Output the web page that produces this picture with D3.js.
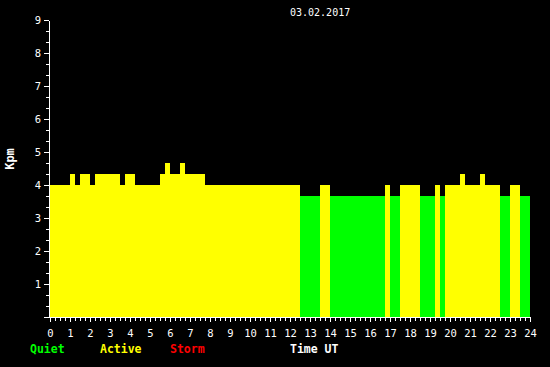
<!DOCTYPE html>
<html>
<head>
<meta charset="utf-8">
<script src="https://cdnjs.cloudflare.com/ajax/libs/d3/7.8.5/d3.min.js"></script>
<style>
    body { margin: 0; background: #000; }
    svg { display: block; background: #000; }
</style>
</head>
<body>
<script>

    // 15 minute Kpm values, 03.02.2017
    var hours = d3.range(0, 24, 0.25);
    var kpm = [
        4, 4, 4, 4, 4.33, 4, 4.33, 4.33,
        4, 4.33, 4.33, 4.33, 4.33, 4.33, 4, 4.33,
        4.33, 4, 4, 4, 4, 4, 4.33, 4.67,
        4.33, 4.33, 4.67, 4.33, 4.33, 4.33, 4.33, 4,
        4, 4, 4, 4, 4, 4, 4, 4,
        4, 4, 4, 4, 4, 4, 4, 4,
        4, 4, 3.67, 3.67, 3.67, 3.67, 4, 4,
        3.67, 3.67, 3.67, 3.67, 3.67, 3.67, 3.67, 3.67,
        3.67, 3.67, 3.67, 4, 3.67, 3.67, 4, 4,
        4, 4, 3.67, 3.67, 3.67, 4, 3.67, 4,
        4, 4, 4.33, 4, 4, 4, 4.33, 4,
        4, 4, 3.67, 3.67, 4, 4, 3.67, 3.67
    ];
    var xTicks = d3.range(0, 24.01, 0.25);
    var yTicks = d3.range(0, 28).map(function (d) { return d / 3; });
    var title = '03.02.2017';
    var legend = ['Quiet', 'Active', 'Storm'];
    var legendColor = ['#00ff00', '#ffff00', '#ff0000'];

    var canvas = d3.select('body')
        .append('svg')
        .attr('width', 550)
        .attr('height', 367)

    var x = d3.scaleLinear()
        .domain([0, 24])
        .range([50, 530])

    var y = d3.scaleLinear()
        .domain([0, 9])
        .range([317, 20])

    // bars
    canvas.append('g')
        .selectAll('rect')
        .data(kpm)
        .enter()
        .append('rect')
        .attr('x', function (d, i) {
            return x(hours[i]);
        })
        .attr('width', function (d, i) {
            return x(hours[i] + 0.25) - x(hours[i]);
        })
        .attr('y', function (d) {
            return y(d);
        })
        .attr('height', function (d) {
            return y(0) - y(d);
        })
        .attr('fill', function (d) {
            return d < 4 ? legendColor[0] : (d < 5 ? legendColor[1] : legendColor[2]);
        })
        .attr('shape-rendering', 'crispEdges')

    // axis
    var axisB = d3.axisBottom(x)
        .tickValues(xTicks)
        .tickSize(4)
        .tickSizeOuter(0)
        .tickPadding(9)
        .tickFormat(function (d) {
            return Number.isInteger(d) ? d : '';
        })

    var axisL = d3.axisLeft(y)
        .tickValues(yTicks)
        .tickSize(3)
        .tickSizeOuter(0)
        .tickPadding(5)
        .tickFormat(function (d) {
            var r = Math.round(d);
            return (Math.abs(d - r) < 0.01 && r > 0) ? r : '';
        })

    var gB = canvas.append('g')
        .attr('transform', 'translate(0,317)')
        .call(axisB)

    gB.selectAll('line')
        .filter(function (d) { return Number.isInteger(d); })
        .attr('y2', 5)

    var gL = canvas.append('g')
        .attr('transform', 'translate(49,0)')
        .call(axisL)

    gL.selectAll('line')
        .filter(function (d) { return Math.abs(d - Math.round(d)) < 0.01; })
        .attr('x2', -5)

    canvas.selectAll('.domain, .tick line')
        .attr('stroke', '#fff')
        .attr('shape-rendering', 'crispEdges')

    canvas.selectAll('.tick text')
        .attr('fill', '#fff')
        .attr('font-family', 'DejaVu Sans Mono')
        .attr('font-size', 10.5)

    gL.selectAll('.tick text').attr('x', -8)

    // texts
    canvas.append('text')
        .text(title)
        .attr('x', 290)
        .attr('y', 16)
        .attr('fill', '#fff')
        .attr('font-family', 'DejaVu Sans Mono')
        .attr('font-size', 10)

    canvas.append('text')
        .text('Kpm')
        .attr('transform', 'translate(14,159) rotate(-90)')
        .attr('text-anchor', 'middle')
        .attr('fill', '#fff')
        .attr('font-family', 'DejaVu Sans Mono')
        .attr('font-weight', 'bold')
        .attr('font-size', 12)

    canvas.selectAll('.legend')
        .data(legend)
        .enter()
        .append('text')
        .attr('class', 'legend')
        .text(function (d) { return d; })
        .attr('x', function (d, i) { return [30, 100, 170][i]; })
        .attr('y', 353)
        .attr('fill', function (d, i) { return legendColor[i]; })
        .attr('font-family', 'DejaVu Sans Mono')
        .attr('font-weight', 'bold')
        .attr('font-size', 11.5)

    canvas.append('text')
        .text('Time UT')
        .attr('x', 290)
        .attr('y', 353)
        .attr('fill', '#fff')
        .attr('font-family', 'DejaVu Sans Mono')
        .attr('font-weight', 'bold')
        .attr('font-size', 11.5)

</script>
</body>
</html>
